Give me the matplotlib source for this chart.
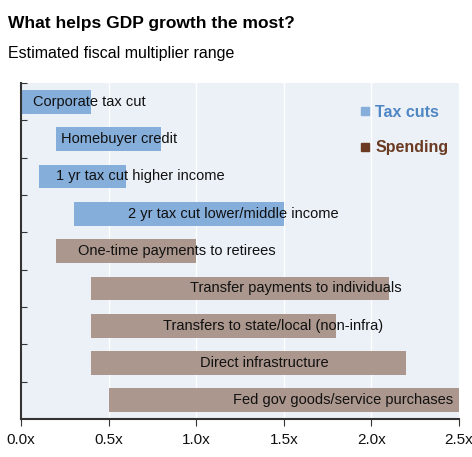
import matplotlib.pyplot as plt
from matplotlib.lines import Line2D

# data: multiplier ranges (low, high), top to bottom
policies = ['Corporate tax cut', 'Homebuyer credit', '1 yr tax cut higher income',
            '2 yr tax cut lower/middle income', 'One-time payments to retirees',
            'Transfer payments to individuals', 'Transfers to state/local (non-infra)',
            'Direct infrastructure', 'Fed gov goods/service purchases']
low = [0.0, 0.2, 0.1, 0.3, 0.2, 0.4, 0.4, 0.4, 0.5]
high = [0.4, 0.8, 0.6, 1.5, 1.0, 2.1, 1.8, 2.2, 2.5]
kind = ['tax', 'tax', 'tax', 'tax', 'spend', 'spend', 'spend', 'spend', 'spend']
label_x = [0.39, 0.56, 0.68, 1.21, 0.89, 1.57, 1.44, 1.39, 1.84]
xticks = [0.0, 0.5, 1.0, 1.5, 2.0, 2.5]

plt.rcParams['font.family'] = ['Liberation Sans', 'DejaVu Sans']

bar_col = {'tax': '#85aedb', 'spend': '#ab978d'}
txt_col = {'tax': '#4f86c4', 'spend': '#6a3b22'}

fig = plt.figure(figsize=(4.72, 4.57), dpi=100)
ax = fig.add_axes([0.0445, 0.083, 0.928, 0.735])
ax.set_facecolor('#ebf1f7')

y = list(range(len(policies)))
widths = [h - l for l, h in zip(low, high)]
ax.barh(y, widths, left=low, height=0.64,
        color=[bar_col[k] for k in kind], zorder=2)
for i, name in enumerate(policies):
    ax.text(label_x[i], y[i], name, ha='center', va='center',
            fontsize=10.5, color='#111111', zorder=3)

ax.set_xlim(0, 2.5)
ax.set_ylim(len(policies) - 0.5, -0.5)
ax.set_xticks(xticks)
ax.set_xticklabels(['%.1fx' % v for v in xticks], fontsize=11)
ax.set_yticks([i + 0.5 for i in range(-1, len(policies) - 1)])
ax.set_yticklabels([])
ax.tick_params(axis='y', direction='in', length=4, color='#333333')
ax.tick_params(axis='x', direction='out', length=5, color='#333333', pad=5,
               labelcolor='#111111')
ax.grid(axis='x', color='white', linewidth=1, zorder=1)
for s in ['top', 'right']:
    ax.spines[s].set_visible(False)
for s in ['left', 'bottom']:
    ax.spines[s].set_color('#333333')
    ax.spines[s].set_linewidth(1.5)

handles = [Line2D([], [], marker='s', ls='', color=bar_col['tax'], markersize=5.5),
           Line2D([], [], marker='s', ls='', color=txt_col['spend'], markersize=5.5)]
leg = ax.legend(handles, ['Tax cuts', 'Spending'], loc='upper right',
                bbox_to_anchor=(0.99, 0.955), borderaxespad=0, frameon=False,
                handlelength=0.6, handletextpad=0.35, labelspacing=1.3,
                prop={'weight': 'bold', 'size': 11.5})
for t, c in zip(leg.get_texts(), [txt_col['tax'], txt_col['spend']]):
    t.set_color(c)

fig.text(0.017, 0.939, 'What helps GDP growth the most?', fontsize=12.5,
         fontweight='bold', va='baseline', ha='left')
fig.text(0.017, 0.873, 'Estimated fiscal multiplier range', fontsize=11.5,
         va='baseline', ha='left')

fig.savefig('out.png', dpi=100)
